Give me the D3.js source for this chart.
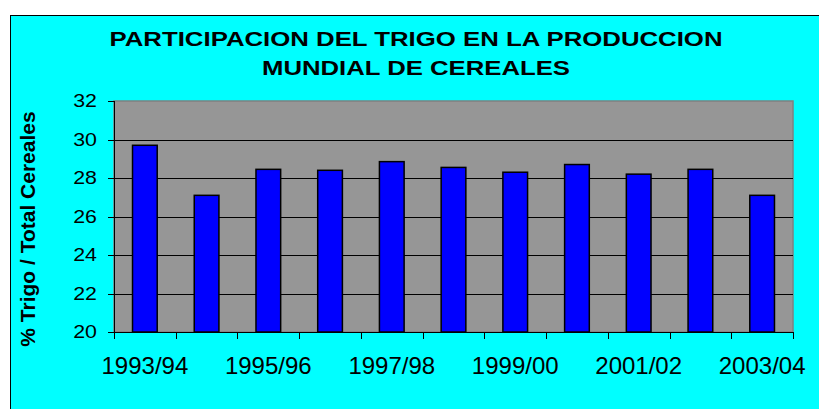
<!DOCTYPE html>
<html>
<head>
<meta charset="utf-8">
<title>participacion trigo</title>
<style>
    body { margin: 0; background: #fff; }
    svg text { font-family: Arial, "Liberation Sans", sans-serif; fill: #000; }
    .axis path, .axis line { stroke: #000; shape-rendering: crispEdges; }
    .grid line { stroke: #000; shape-rendering: crispEdges; }
</style>
</head>
<body>
<script src="https://cdn.jsdelivr.net/npm/d3@7"></script>
<script>
    // data
    var campaigns = ['1993/94', '1994/95', '1995/96', '1996/97', '1997/98', '1998/99',
                     '1999/00', '2000/01', '2001/02', '2002/03', '2003/04'];
    var share = [29.7, 27.1, 28.45, 28.4, 28.85, 28.55, 28.3, 28.7, 28.2, 28.45, 27.1];
    var yTicks = [20, 22, 24, 26, 28, 30, 32];
    var titleLines = ['PARTICIPACION DEL TRIGO EN LA PRODUCCION', 'MUNDIAL DE CEREALES'];
    var yTitle = '% Trigo / Total Cereales';

    var svgWidth = 819, svgHeight = 409;
    var margin = { top: 101, left: 114, right: 26, bottom: 77 };
    var width = svgWidth - margin.left - margin.right;
    var height = svgHeight - margin.top - margin.bottom;

    var svg = d3.select('body').append('svg')
        .attr('width', svgWidth).attr('height', svgHeight);

    // chart area (cyan, cut off right and bottom)
    svg.append('rect')
        .attr('x', 10.5).attr('y', 15.5)
        .attr('width', svgWidth).attr('height', svgHeight)
        .attr('fill', '#00ffff').attr('stroke', '#000').attr('stroke-width', 1);

    // title (the original font is drawn a bit wide)
    var titleWidths = [613, 308];
    svg.selectAll('.title').data(titleLines).enter().append('text')
        .attr('class', 'title')
        .attr('x', 416).attr('y', function (d, i) { return 46 + i * 29; })
        .attr('text-anchor', 'middle')
        .attr('textLength', function (d, i) { return titleWidths[i]; })
        .attr('lengthAdjust', 'spacingAndGlyphs')
        .style('font-weight', 'bold').style('font-size', '21px')
        .text(function (d) { return d; });

    var x = d3.scaleBand().domain(campaigns).range([0, width]).paddingInner(0.6).paddingOuter(0.3);
    var xTick = d3.scaleBand().domain(campaigns).range([0, width]);
    var y = d3.scaleLinear().domain([20, 32]).range([height, 0]);

    var g = svg.append('g').attr('transform', 'translate(' + margin.left + ',' + margin.top + ')');

    g.append('rect')
        .attr('width', width).attr('height', height)
        .attr('fill', '#969696').attr('stroke', '#808080').attr('stroke-width', 1.5);

    g.append('g').attr('class', 'grid')
        .selectAll('line').data(yTicks.slice(1, -1)).enter().append('line')
        .attr('x1', 0).attr('x2', width)
        .attr('y1', function (d) { return y(d) + 0.5; })
        .attr('y2', function (d) { return y(d) + 0.5; });

    g.selectAll('.bar').data(share).enter().append('rect')
        .attr('class', 'bar')
        .attr('x', function (d, i) { return x(campaigns[i]); })
        .attr('y', function (d) { return y(d); })
        .attr('width', x.bandwidth())
        .attr('height', function (d) { return height - y(d); })
        .attr('fill', '#0000ff').attr('stroke', '#000').attr('stroke-width', 1.5);

    // y axis
    var yAxis = d3.axisLeft(y).tickValues(yTicks).tickSize(6).tickPadding(0);
    var yG = g.append('g').attr('class', 'axis').call(yAxis);
    yG.select('.domain').attr('d', 'M0.5,0V' + height);
    yG.selectAll('text')
        .attr('x', 0)
        .attr('transform', 'translate(-17,0) scale(1.22,1)')
        .style('font-size', '17.5px');

    // x axis: ticks at category boundaries, labels every other category
    var bounds = d3.range(campaigns.length + 1).map(function (i) { return i * xTick.bandwidth(); });
    var xG = g.append('g').attr('class', 'axis').attr('transform', 'translate(0,' + height + ')');
    xG.append('line').attr('x1', 0).attr('x2', width).attr('y1', 0.5).attr('y2', 0.5);
    xG.selectAll('.tk').data(bounds).enter().append('line')
        .attr('class', 'tk')
        .attr('x1', function (d) { return Math.round(d) + 0.5; })
        .attr('x2', function (d) { return Math.round(d) + 0.5; })
        .attr('y1', 0).attr('y2', 7);
    xG.selectAll('.lbl').data(campaigns.filter(function (d, i) { return i % 2 === 0; }))
        .enter().append('text')
        .attr('class', 'lbl')
        .attr('x', function (d) { return xTick(d) + xTick.bandwidth() / 2; })
        .attr('y', 41.5)
        .attr('text-anchor', 'middle')
        .style('font-size', '24px')
        .text(function (d) { return d; });

    // y title
    svg.append('text')
        .attr('transform', 'translate(35,' + 229 + ') rotate(-90)')
        .attr('text-anchor', 'middle')
        .style('font-weight', 'bold').style('font-size', '21px')
        .text(yTitle);
</script>
</body>
</html>
